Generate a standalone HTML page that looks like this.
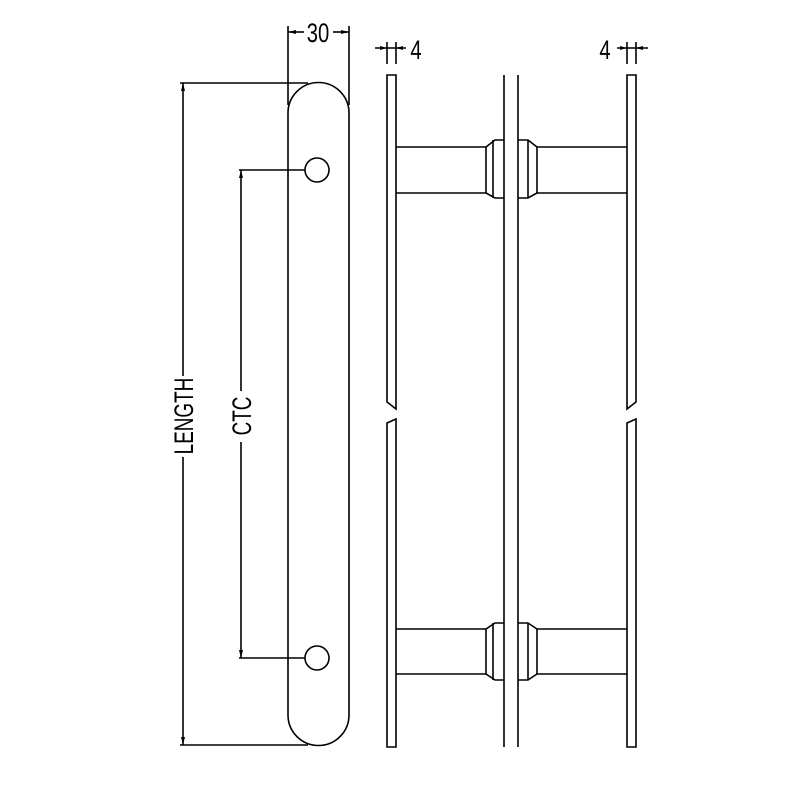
<!DOCTYPE html>
<html><head><style>html,body{margin:0;padding:0;background:#fff}svg{display:block}</style></head>
<body>
<svg width="800" height="800" viewBox="0 0 800 800" xmlns="http://www.w3.org/2000/svg">
<g fill="none" stroke="#000" stroke-width="1.6">
<path d="M288,113 A30.5,30.5 0 0 1 349,113 L349,715 A30.5,30.5 0 0 1 288,715 Z"/>
<circle cx="317" cy="170" r="12"/>
<circle cx="317" cy="658" r="12"/>
<line x1="288" y1="26" x2="288" y2="105"/>
<line x1="349" y1="26" x2="349" y2="105"/>
<line x1="288" y1="32" x2="304" y2="32"/>
<line x1="333" y1="32" x2="349" y2="32"/>
<line x1="180" y1="83" x2="308" y2="83"/>
<line x1="180" y1="745" x2="308" y2="745"/>
<line x1="183" y1="83" x2="183" y2="376"/>
<line x1="183" y1="457" x2="183" y2="745"/>
<line x1="239" y1="170" x2="305" y2="170"/>
<line x1="239" y1="658" x2="305" y2="658"/>
<line x1="241" y1="170" x2="241" y2="391"/>
<line x1="241" y1="442" x2="241" y2="658"/>
<line x1="387" y1="42" x2="387" y2="64"/>
<line x1="396" y1="42" x2="396" y2="64"/>
<line x1="375" y1="48" x2="406" y2="48"/>
<line x1="627" y1="42" x2="627" y2="64"/>
<line x1="636" y1="42" x2="636" y2="64"/>
<line x1="617" y1="48" x2="648" y2="48"/>
<path d="M387,402 L387,75 L396,75 L396,409 Z"/>
<path d="M387,747 L387,423 L396,419 L396,747 Z"/>
<path d="M627,409 L627,75 L636,75 L636,402 Z"/>
<path d="M627,747 L627,423 L636,419 L636,747 Z"/>
<line x1="504" y1="75" x2="504" y2="747"/>
<line x1="518" y1="75" x2="518" y2="747"/>
<line x1="396" y1="147" x2="486" y2="147"/>
<line x1="396" y1="193" x2="486" y2="193"/>
<path d="M486,147 L495,140 L504,140 M486,193 L495,198 L504,198"/>
<line x1="486" y1="147" x2="486" y2="193"/>
<line x1="493" y1="140" x2="493" y2="198"/>
<line x1="537" y1="147" x2="627" y2="147"/>
<line x1="537" y1="193" x2="627" y2="193"/>
<path d="M537,147 L528,140 L518,140 M537,193 L528,198 L518,198"/>
<line x1="537" y1="147" x2="537" y2="193"/>
<line x1="528" y1="140" x2="528" y2="198"/>
<line x1="396" y1="629" x2="486" y2="629"/>
<line x1="396" y1="674" x2="486" y2="674"/>
<path d="M486,629 L495,623 L504,623 M486,674 L495,680 L504,680"/>
<line x1="486" y1="629" x2="486" y2="674"/>
<line x1="493" y1="623" x2="493" y2="680"/>
<line x1="537" y1="629" x2="627" y2="629"/>
<line x1="537" y1="674" x2="627" y2="674"/>
<path d="M537,629 L528,623 L518,623 M537,674 L528,680 L518,680"/>
<line x1="537" y1="629" x2="537" y2="674"/>
<line x1="528" y1="623" x2="528" y2="680"/>
</g>
<g fill="#000">
<path d="M288,32 l8,-2 v4 z M349,32 l-8,-2 v4 z"/>
<path d="M183,83 l-2,8 h4 z M183,745 l-2,-8 h4 z"/>
<path d="M241,170 l-2,8 h4 z M241,658 l-2,-8 h4 z"/>
<path d="M387,48 l-7,-2 v4 z M396,48 l7,-2 v4 z"/>
<path d="M627,48 l-7,-2 v4 z M636,48 l7,-2 v4 z"/>
</g>
<g font-family="Liberation Sans, sans-serif" fill="#000">
<text transform="translate(318 42) scale(0.75 1)" text-anchor="middle" font-size="27">30</text>
<text transform="translate(416 59) scale(0.75 1)" text-anchor="middle" font-size="27">4</text>
<text transform="translate(605 59) scale(0.75 1)" text-anchor="middle" font-size="27">4</text>
<text transform="translate(193 416) rotate(-90) scale(0.7 1)" text-anchor="middle" font-size="27">LENGTH</text>
<text transform="translate(251 416) rotate(-90) scale(0.7 1)" text-anchor="middle" font-size="27">CTC</text>
</g>
</svg>
</body></html>
